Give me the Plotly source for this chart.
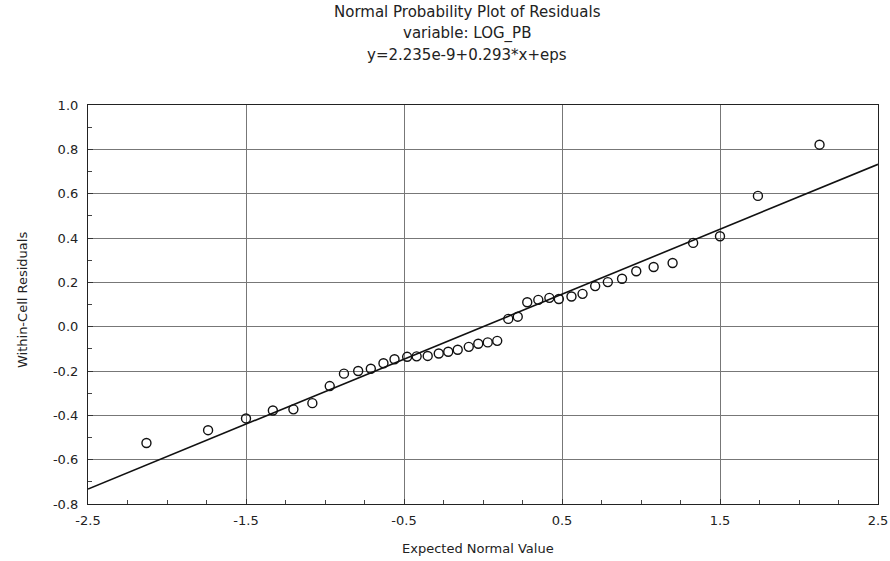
import plotly.graph_objects as go

# Expected normal values (x) and within-cell residuals (y)
expected_normal = [-2.13, -1.74, -1.50, -1.33, -1.20, -1.08, -0.97, -0.88, -0.79, -0.71,
                   -0.63, -0.56, -0.48, -0.42, -0.35, -0.28, -0.22, -0.16, -0.09, -0.03,
                   0.03, 0.09, 0.16, 0.22, 0.28, 0.35, 0.42, 0.48, 0.56, 0.63,
                   0.71, 0.79, 0.88, 0.97, 1.08, 1.20, 1.33, 1.50, 1.74, 2.13]
residuals = [-0.525, -0.467, -0.414, -0.378, -0.373, -0.345, -0.268, -0.212, -0.200, -0.190,
             -0.165, -0.147, -0.136, -0.134, -0.132, -0.121, -0.113, -0.104, -0.091, -0.077,
             -0.071, -0.064, 0.035, 0.045, 0.110, 0.121, 0.130, 0.125, 0.136, 0.148,
             0.183, 0.201, 0.216, 0.250, 0.269, 0.287, 0.378, 0.408, 0.590, 0.821]

# Fitted line: y = 2.235e-9 + 0.293*x
intercept = 2.235e-9
slope = 0.293
line_x = [-2.5, 2.5]
line_y = [intercept + slope * v for v in line_x]

x_tickvals = [-2.5, -1.5, -0.5, 0.5, 1.5, 2.5]
x_ticktext = ["-2.5", "-1.5", "-0.5", "0.5", "1.5", "2.5"]
y_tickvals = [1.0, 0.8, 0.6, 0.4, 0.2, 0.0, -0.2, -0.4, -0.6, -0.8]
y_ticktext = ["1.0", "0.8", "0.6", "0.4", "0.2", "0.0", "-0.2", "-0.4", "-0.6", "-0.8"]

title_lines = ["Normal Probability Plot of Residuals", "variable: LOG_PB", "y=2.235e-9+0.293*x+eps"]
x_title = "Expected Normal Value"
y_title = "Within-Cell Residuals"

W, H = 890, 561
L, R, T, B = 88, 12, 105, 57
plot_h = H - T - B
plot_w = W - L - R

FONT = "DejaVu Sans, Arial, sans-serif"
TXT = "#222222"

fig = go.Figure()
fig.add_trace(go.Scatter(x=line_x, y=line_y, mode="lines",
                         line=dict(color="#111", width=1.6), showlegend=False, hoverinfo="skip"))
fig.add_trace(go.Scatter(x=expected_normal, y=residuals, mode="markers",
                         marker=dict(symbol="circle-open", size=9, color="#111",
                                     line=dict(width=1.4, color="#111")),
                         showlegend=False))

axis_common = dict(showline=True, linecolor="#222", linewidth=1.2, mirror=True,
                   showgrid=True, gridcolor="#777", gridwidth=1.2, zeroline=False,
                   automargin=False,
                   ticks="inside", ticklen=5, tickcolor="#333", tickwidth=1,
                   tickfont=dict(family=FONT, size=13, color=TXT))

fig.update_xaxes(range=[-2.5, 2.5], tickvals=x_tickvals, ticktext=x_ticktext,
                 minor=dict(dtick=0.25, tick0=-2.5, ticks="inside", ticklen=4,
                            tickcolor="#444", showgrid=False),
                 ticklabelstandoff=4, **axis_common)
fig.update_yaxes(range=[-0.8, 1.0], tickvals=y_tickvals, ticktext=y_ticktext,
                 minor=dict(dtick=0.1, tick0=-0.8, ticks="inside", ticklen=4,
                            tickcolor="#444", showgrid=False),
                 ticklabelstandoff=6, **axis_common)

def py(pix_y):
    # page pixel y -> paper coordinate
    return (H - B - pix_y) / plot_h

def px(pix_x):
    return (pix_x - L) / plot_w

title_y = [12, 34, 55]
for txt, yy in zip(title_lines, title_y):
    fig.add_annotation(text=txt, xref="paper", yref="paper", x=px(467), y=py(yy),
                       xanchor="center", yanchor="middle", showarrow=False,
                       font=dict(family=FONT, size=15, color=TXT))

fig.add_annotation(text=x_title, xref="paper", yref="paper", x=px(478), y=py(548),
                   xanchor="center", yanchor="middle", showarrow=False,
                   font=dict(family=FONT, size=13, color=TXT))
fig.add_annotation(text=y_title, xref="paper", yref="paper", x=px(22), y=py(300),
                   xanchor="center", yanchor="middle", showarrow=False, textangle=-90,
                   font=dict(family=FONT, size=13, color=TXT))

fig.update_layout(template="none", width=W, height=H, margin=dict(l=L, r=R, t=T, b=B, autoexpand=False),
                  paper_bgcolor="white", plot_bgcolor="white",
                  font=dict(family=FONT, color=TXT))

fig.write_html("out.html", config={"displayModeBar": False},
               post_script="document.body.style.margin='0px';document.body.style.overflow='hidden';")
